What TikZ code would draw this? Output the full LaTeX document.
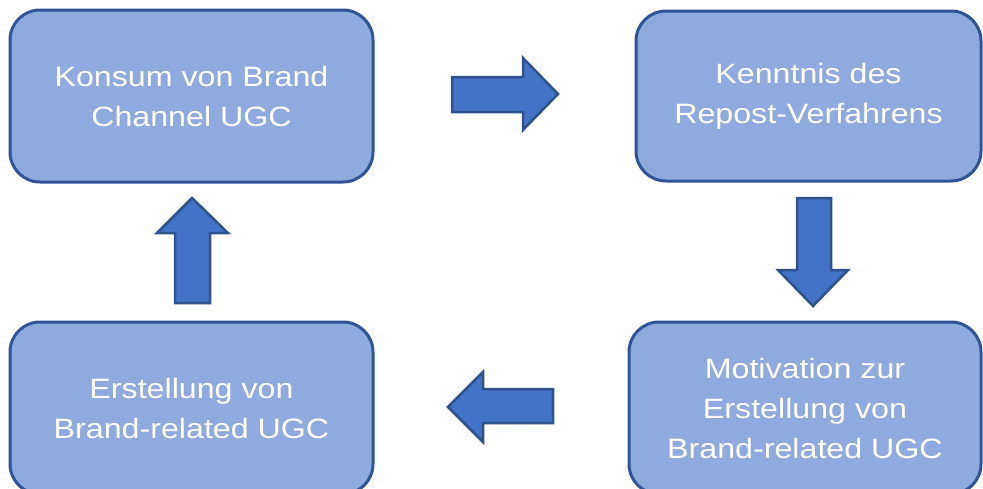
\documentclass[tikz,border=0pt]{standalone}
\usepackage{fontspec}
\setmainfont[FakeStretch=1.15]{Liberation Sans}
\usepackage{xcolor}
\usepackage{tikz}
\usetikzlibrary{positioning,calc}

\definecolor{boxfill}{HTML}{8FAADC}
\definecolor{boxline}{HTML}{2F5597}
\definecolor{arrowfill}{HTML}{4472C4}
\definecolor{arrowline}{HTML}{2F528F}

\tikzset{
  stepbox/.style={draw=boxline, fill=boxfill, line width=3pt, rounded corners=30pt,
    align=center, text=white, font=\fontsize{28}{40}\selectfont, inner sep=0pt},
  blockarrow/.style={draw=arrowline, fill=arrowfill, line width=2.5pt, line join=miter}
}

\begin{document}
\begin{tikzpicture}[x=1pt,y=-1pt]
        % Canvas
        \useasboundingbox (0,0) rectangle (983,488);

        % Boxes
        \node[stepbox, minimum width=363pt, minimum height=172pt] (konsum) at (191.5,96) {Konsum von Brand\\Channel UGC};
        \node[stepbox, minimum width=345pt, minimum height=170pt] (kenntnis) at (808.5,96) {Kenntnis des\\Repost-Verfahrens};
        \node[stepbox, minimum width=352pt, minimum height=172pt] (motivation) at (805,408) {Motivation zur\\Erstellung von\\Brand-related UGC};
        \node[stepbox, minimum width=363pt, minimum height=172pt] (erstellung) at (191.5,408) {Erstellung von\\Brand-related UGC};

        % Arrows
        \draw[blockarrow] (452,77) -- (523,77) -- (523,58) -- (558,94) -- (523,130) -- (523,112) -- (452,112) -- cycle;
        \draw[blockarrow] (797,198) -- (831,198) -- (831,270) -- (848,270) -- (813,306) -- (778,270) -- (797,270) -- cycle;
        \draw[blockarrow] (553,389) -- (483,389) -- (483,372) -- (448,407) -- (483,442) -- (483,423) -- (553,423) -- cycle;
        \draw[blockarrow] (175,303) -- (175,233) -- (157,233) -- (192,198) -- (228,233) -- (210,233) -- (210,303) -- cycle;
\end{tikzpicture}
\end{document}
